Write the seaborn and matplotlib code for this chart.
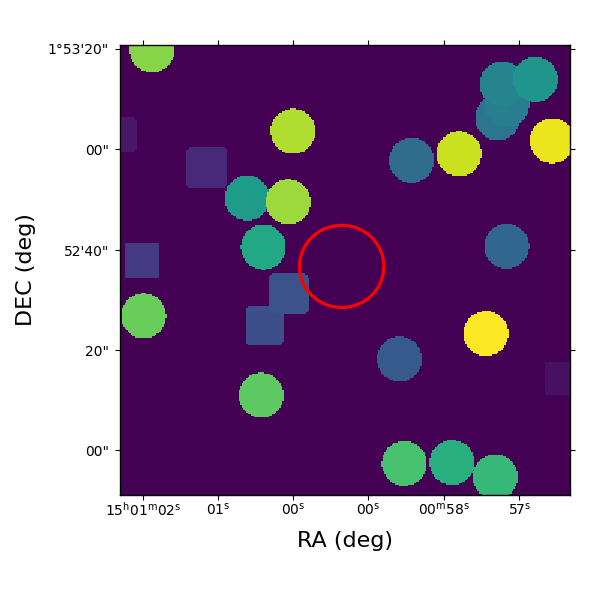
import numpy as np
import matplotlib
matplotlib.use("Agg")
import matplotlib.pyplot as plt
from matplotlib.patches import Ellipse
import seaborn as sns

GRID = 300
CELLS_PER_UNIT = GRID / 150

# filled sources: centre (image units, y from the top), level 0-1, in draw order
circle_x = [10.6, 57.6, 42.3, 56.0, 47.7, 125.8, 128.9, 127.3, 138.4, 97.1,
            112.9, 144.0, 128.8, 7.8, 47.0, 121.9, 93.1, 94.7, 110.6, 125.0]
circle_y = [1.6, 28.7, 50.9, 52.2, 67.3, 24.2, 19.7, 12.9, 11.4, 38.4,
            36.2, 31.8, 67.0, 90.2, 116.7, 96.1, 104.6, 139.4, 139.1, 143.9]
circle_val = [0.82, 0.88, 0.55, 0.85, 0.60, 0.39, 0.42, 0.45, 0.52, 0.35,
              0.92, 0.97, 0.33, 0.77, 0.75, 1.00, 0.28, 0.71, 0.63, 0.67]
circle_r = 7.5

square_x = [28.8, -0.3, 7.2, 48.2, 56.1, 147.3]
square_y = [40.9, 29.9, 71.6, 93.5, 82.9, 111.0]
square_h = [6.8, 5.67, 5.67, 6.4, 6.7, 5.67]
square_corner = [1.32, 1.32, 1.5, 1.3, 1.3, 1.5]
square_val = [0.11, 0.06, 0.17, 0.24, 0.25, 0.04]

x_ticks = [7.77, 32.77, 57.77, 82.77, 108.1, 133.1]
x_labels = [r"15$^{\mathrm{h}}$01$^{\mathrm{m}}$02$^{\mathrm{s}}$", r"01$^{\mathrm{s}}$",
            r"00$^{\mathrm{s}}$", r"00$^{\mathrm{s}}$",
            r"00$^{\mathrm{m}}$58$^{\mathrm{s}}$", r"57$^{\mathrm{s}}$"]
y_ticks = [1.33, 34.8, 68.4, 101.67, 135.0]
y_labels = ["1°53'20\"", "00\"", "52'40\"", "20\"", "00\""]

ring_x, ring_y, ring_w, ring_h = 73.9, 73.8, 28.1, 27.4

yy, xx = (np.mgrid[0:GRID, 0:GRID] + 0.5) / CELLS_PER_UNIT
image = np.zeros((GRID, GRID))
for x, y, h, c, v in zip(square_x, square_y, square_h, square_corner, square_val):
    dx, dy = xx - x, yy - y
    image[(np.abs(dx) <= h) & (np.abs(dy) <= h) & (dx**2 + dy**2 <= (c * h)**2)] = v
for x, y, v in zip(circle_x, circle_y, circle_val):
    image[(xx - x)**2 + (yy - y)**2 <= circle_r**2] = v

fig = plt.figure(figsize=(6, 6), dpi=100)
ax = fig.add_axes([0.2, 0.175, 0.75, 0.75])
sns.heatmap(image, cmap="viridis", vmin=0, vmax=1, cbar=False, ax=ax, square=False,
            xticklabels=False, yticklabels=False, rasterized=True)
for s in ax.spines.values():
    s.set_visible(True)
    s.set_linewidth(1.0)
    s.set_color("black")

ax.set_xticks(np.array(x_ticks) * CELLS_PER_UNIT)
ax.set_xticklabels(x_labels, rotation=0, fontsize=10)
ax.set_yticks(np.array(y_ticks) * CELLS_PER_UNIT)
ax.set_yticklabels(y_labels, rotation=0, fontsize=10)
ax.tick_params(top=True, right=True, bottom=True, left=True, direction="out", length=3.5, width=0.8)
ax.tick_params(axis="x", pad=1.0)
ax.tick_params(axis="y", pad=4.5)
ax.set_xlabel("RA (deg)", fontsize=16, labelpad=8.5)
ax.set_ylabel("DEC (deg)", fontsize=16, labelpad=8.5)

ax.add_patch(Ellipse((ring_x * CELLS_PER_UNIT, ring_y * CELLS_PER_UNIT),
                     ring_w * CELLS_PER_UNIT, ring_h * CELLS_PER_UNIT,
                     fill=False, edgecolor="red", linewidth=2.3))

fig.savefig("out.png", dpi=100)
